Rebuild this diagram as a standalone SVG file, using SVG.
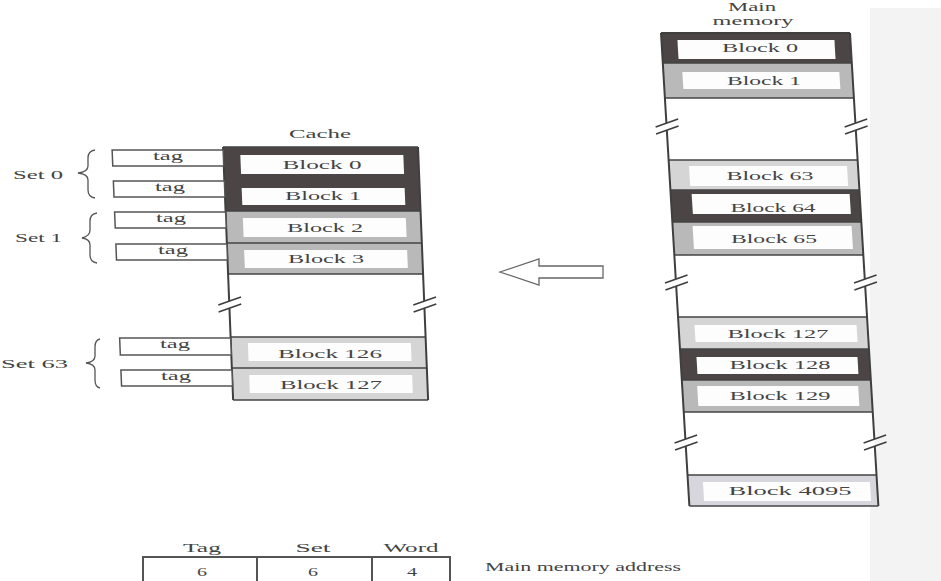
<svg xmlns="http://www.w3.org/2000/svg" width="941" height="581" viewBox="0 0 941 581">
<style>
.t{font-family:"Liberation Serif","Times New Roman",serif;font-size:13.5px;fill:#444;text-anchor:middle}
.s{text-anchor:start}
.dark{fill:#4b4545}
.gray{fill:#b9b9b9}
.light{fill:#d5d5d5}
.in{fill:#fdfdfd}
.edge{stroke:#3f3f3f;stroke-width:2;fill:none}
.sep{stroke:#444;stroke-width:1.5;fill:none}
.tag{fill:#fff;stroke:#555;stroke-width:1.5}
.brk{stroke:#3f3f3f;stroke-width:1.5;fill:none}
.brace{stroke:#555;stroke-width:1.3;fill:none}
</style>
<rect x="0" y="0" width="941" height="581" fill="#fff"/>
<rect x="870" y="8" width="71" height="573" fill="#f3f3f3"/>

<g id="cache">
  <text class="t" x="320" y="138" textLength="62" lengthAdjust="spacingAndGlyphs">Cache</text>
  <g transform="matrix(1 0 0.04 1 -5.88 0)">
    <rect x="223" y="147" width="195" height="253" fill="#fff"/>
    <rect class="dark" x="223" y="147" width="195" height="64"/>
    <rect class="gray" x="223" y="211" width="195" height="63"/>
    <rect class="light" x="223" y="337" width="195" height="63"/>
    <rect class="in" x="240" y="155" width="163" height="19"/>
    <rect class="in" x="240" y="188" width="163" height="17"/>
    <rect class="in" x="240" y="218" width="163" height="19"/>
    <rect class="in" x="240" y="250" width="163" height="18"/>
    <rect class="in" x="240" y="343" width="163" height="18"/>
    <rect class="in" x="240" y="375" width="163" height="18"/>
    <path class="sep" d="M223 147H418M223 211H418M223 243H418M223 274H418M223 337H418M223 368H418M223 400H418"/>
    <path class="edge" d="M223 147V301M223 308V400M418 147V301M418 308V400"/>
    <path class="brk" d="M212 305L235 297M212 312L235 304M407 305L430 297M407 312L430 304"/>
    <rect class="tag" x="112" y="150" width="111" height="16"/>
    <rect class="tag" x="112" y="181" width="111" height="16"/>
    <rect class="tag" x="112" y="212" width="111" height="16"/>
    <rect class="tag" x="112" y="244" width="111" height="16"/>
    <rect class="tag" x="112" y="338" width="111" height="17"/>
    <rect class="tag" x="112" y="370" width="111" height="16"/>
  </g>
  <text class="t" x="322" y="169" textLength="79" lengthAdjust="spacingAndGlyphs">Block 0</text>
  <text class="t" x="323" y="200" textLength="76" lengthAdjust="spacingAndGlyphs">Block 1</text>
  <text class="t" x="325" y="232" textLength="76" lengthAdjust="spacingAndGlyphs">Block 2</text>
  <text class="t" x="326" y="263" textLength="76" lengthAdjust="spacingAndGlyphs">Block 3</text>
  <text class="t" x="330" y="358" textLength="104" lengthAdjust="spacingAndGlyphs">Block 126</text>
  <text class="t" x="331" y="389" textLength="102" lengthAdjust="spacingAndGlyphs">Block 127</text>
  <text class="t" x="168" y="160" textLength="30" lengthAdjust="spacingAndGlyphs">tag</text>
  <text class="t" x="170" y="191" textLength="30" lengthAdjust="spacingAndGlyphs">tag</text>
  <text class="t" x="171" y="222" textLength="30" lengthAdjust="spacingAndGlyphs">tag</text>
  <text class="t" x="173" y="254" textLength="30" lengthAdjust="spacingAndGlyphs">tag</text>
  <text class="t" x="175" y="348" textLength="30" lengthAdjust="spacingAndGlyphs">tag</text>
  <text class="t" x="176" y="380" textLength="30" lengthAdjust="spacingAndGlyphs">tag</text>
</g>

<g id="sets">
  <text class="t s" x="13" y="179" textLength="50" lengthAdjust="spacingAndGlyphs">Set 0</text>
  <text class="t s" x="15" y="242" textLength="47" lengthAdjust="spacingAndGlyphs">Set 1</text>
  <text class="t s" x="1" y="368" textLength="67" lengthAdjust="spacingAndGlyphs">Set 63</text>
  <path class="brace" d="M95 150Q88 151 88 158V166Q88 172 78 173Q88 174 88 180V190Q88 197 95 198"/>
  <path class="brace" d="M97 213Q90 214 90 221V230Q90 236 82 238Q90 239 90 245V255Q90 262 97 263"/>
  <path class="brace" d="M100 339Q95 340 95 347V356Q95 362 86 363Q95 364 95 370V380Q95 387 100 388"/>
</g>

<g id="main-memory">
  <text class="t" x="752" y="11" font-size="11" textLength="48" lengthAdjust="spacingAndGlyphs">Main</text>
  <text class="t" x="753" y="25" textLength="81" lengthAdjust="spacingAndGlyphs">memory</text>
  <g transform="matrix(1 0 0.06 1 -1.98 0)">
    <rect x="661" y="33" width="189" height="473" fill="#fff"/>
    <rect class="dark" x="661" y="33" width="189" height="30"/>
    <rect class="gray" x="661" y="63" width="189" height="35"/>
    <rect class="light" x="661" y="160" width="189" height="30"/>
    <rect class="dark" x="661" y="190" width="189" height="32"/>
    <rect class="gray" x="661" y="222" width="189" height="33"/>
    <rect class="light" x="661" y="317" width="189" height="32"/>
    <rect class="dark" x="661" y="349" width="189" height="31"/>
    <rect class="gray" x="661" y="380" width="189" height="32"/>
    <rect x="661" y="475" width="189" height="31" fill="#d6d6dc"/>
    <rect class="in" x="677" y="40" width="157" height="19"/>
    <rect class="in" x="680" y="72" width="157" height="17"/>
    <rect class="in" x="681" y="166" width="158" height="20"/>
    <rect class="in" x="682" y="194" width="158" height="20"/>
    <rect class="in" x="681" y="226" width="159" height="23"/>
    <rect class="in" x="677" y="325" width="162" height="17"/>
    <rect class="in" x="677" y="357" width="161" height="17"/>
    <rect class="in" x="676" y="386" width="161" height="20"/>
    <rect class="in" x="676" y="482" width="167" height="19"/>
    <path class="sep" d="M661 63H850M661 98H850M661 160H850M661 190H850M661 222H850M661 255H850M661 317H850M661 349H850M661 380H850M661 412H850M661 475H850M661 506H850"/>
    <path class="edge" d="M661 33H850"/>
    <path class="edge" d="M661 33V123M661 130V279M661 286V439M661 446V506M850 33V123M850 130V279M850 286V439M850 446V506"/>
    <path class="brk" d="M650 127L673 119M650 134L673 126M839 127L862 119M839 134L862 126"/>
    <path class="brk" d="M650 283L673 275M650 290L673 282M839 283L862 275M839 290L862 282"/>
    <path class="brk" d="M650 443L673 435M650 450L673 442M839 443L862 435M839 450L862 442"/>
  </g>
  <text class="t" x="760" y="52" textLength="76" lengthAdjust="spacingAndGlyphs">Block 0</text>
  <text class="t" x="764" y="85" textLength="74" lengthAdjust="spacingAndGlyphs">Block 1</text>
  <text class="t" x="770" y="180" textLength="87" lengthAdjust="spacingAndGlyphs">Block 63</text>
  <text class="t" x="773" y="212" textLength="85" lengthAdjust="spacingAndGlyphs">Block 64</text>
  <text class="t" x="774" y="243" textLength="86" lengthAdjust="spacingAndGlyphs">Block 65</text>
  <text class="t" x="778" y="338" textLength="101" lengthAdjust="spacingAndGlyphs">Block 127</text>
  <text class="t" x="780" y="369" textLength="101" lengthAdjust="spacingAndGlyphs">Block 128</text>
  <text class="t" x="780" y="400" textLength="101" lengthAdjust="spacingAndGlyphs">Block 129</text>
  <text class="t" x="790" y="495" textLength="123" lengthAdjust="spacingAndGlyphs">Block 4095</text>
</g>

<g id="connectors">
  <polygon points="500,272 539,259 539,266 603,266 603,278 539,278 539,285" fill="#fff" stroke="#666" stroke-width="1.3"/>
</g>

<g id="address">
  <text class="t" x="202" y="552" textLength="38" lengthAdjust="spacingAndGlyphs">Tag</text>
  <text class="t" x="313" y="552" textLength="35" lengthAdjust="spacingAndGlyphs">Set</text>
  <text class="t" x="411" y="552" textLength="55" lengthAdjust="spacingAndGlyphs">Word</text>
  <rect x="143" y="557" width="307" height="26" fill="#fff" stroke="#555" stroke-width="2"/>
  <path d="M257 557V583M372 557V583" stroke="#555" stroke-width="2"/>
  <text class="t" x="202" y="576" textLength="10" lengthAdjust="spacingAndGlyphs">6</text>
  <text class="t" x="313" y="576" textLength="10" lengthAdjust="spacingAndGlyphs">6</text>
  <text class="t" x="412" y="576" textLength="10" lengthAdjust="spacingAndGlyphs">4</text>
  <text class="t s" x="485" y="571" textLength="196" lengthAdjust="spacingAndGlyphs">Main memory address</text>
</g>
</svg>
